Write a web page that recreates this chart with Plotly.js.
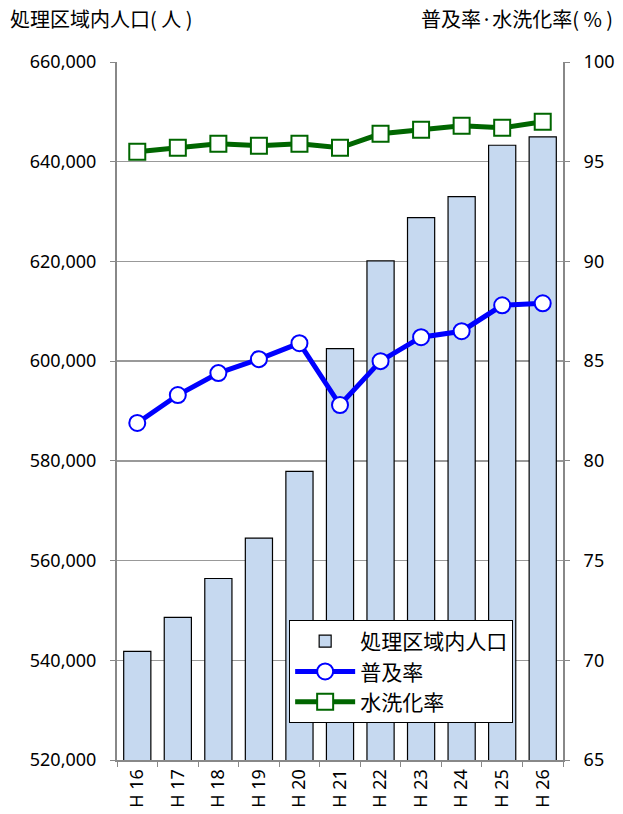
<!DOCTYPE html>
<html>
<head>
<meta charset="utf-8">
<script src="https://cdn.plot.ly/plotly-3.0.1.min.js"></script>
<style>html,body{margin:0;padding:0;background:#fff;}#chart{width:623px;height:814px;}</style>
</head>
<body>
<div id="chart"></div>
<script>
const categories = ["H 16","H 17","H 18","H 19","H 20","H 21","H 22","H 23","H 24","H 25","H 26"];
const population = [541800, 548600, 556400, 564500, 577900, 602500, 620100, 628800, 633000, 643300, 645000];
const fukyuRate = [81.9, 83.3, 84.4, 85.1, 85.9, 82.8, 85.0, 86.2, 86.5, 87.8, 87.9];
const suisenRate = [95.5, 95.7, 95.9, 95.8, 95.9, 95.7, 96.4, 96.6, 96.8, 96.7, 97.0];
const seriesNames = ["処理区域内人口", "普及率", "水洗化率"];
const leftTitle = "処理区域内人口( 人 )";
const rightTitle = "普及率·水洗化率( % )";

const FONT = "'Noto Sans CJK JP', 'Noto Sans', sans-serif";
const NUMFONT = "'Noto Sans', 'Open Sans', sans-serif";

const traces = [
  {
    type: "bar", x: categories, y: population, name: seriesNames[0],
    marker: {color: "#C6D9F0", line: {color: "#000000", width: 1.2}},
    width: 0.67, legendgroup: "a", yaxis: "y"
  },
  {
    type: "scatter", mode: "lines+markers", x: categories, y: fukyuRate, name: seriesNames[1],
    line: {color: "#0000FF", width: 5},
    marker: {symbol: "circle", size: 16, color: "#FFFFFF", line: {color: "#0000FF", width: 2}},
    legendgroup: "b", yaxis: "y2"
  },
  {
    type: "scatter", mode: "lines+markers", x: categories, y: suisenRate, name: seriesNames[2],
    line: {color: "#006600", width: 5},
    marker: {symbol: "square", size: 16, color: "#FFFFFF", line: {color: "#006600", width: 2}},
    legendgroup: "c", yaxis: "y2"
  }
];

const layout = {
  width: 623, height: 814,
  margin: {l: 117, r: 60, t: 62, b: 54},
  paper_bgcolor: "#fff", plot_bgcolor: "#fff",
  font: {family: FONT, size: 17, color: "#000"},
  showlegend: true,
  legend: {
    x: 0.386, y: 0.2006, xanchor: "left", yanchor: "top",
    bgcolor: "#fff", bordercolor: "#000", borderwidth: 1,
    font: {family: FONT, size: 21, color: "#000"},
    traceorder: "grouped", tracegroupgap: 0,
    itemwidth: 60, entrywidth: 235
  },
  xaxis: {
    type: "category",
    range: [-0.5, 10.5],
    tickangle: -90,
    tickson: "boundaries",
    ticks: "outside", ticklen: 5, tickcolor: "#888",
    showline: true, linecolor: "#888", linewidth: 2,
    showgrid: false,
    tickfont: {family: NUMFONT, size: 18, color: "#000"},
    fixedrange: true
  },
  yaxis: {
    range: [520000, 660000], dtick: 20000, tickformat: ",d",
    ticks: "outside", ticklen: 5, tickcolor: "#888",
    ticklabelstandoff: 10,
    showline: true, linecolor: "#888", linewidth: 2,
    showgrid: true, gridcolor: "#999", gridwidth: 1.3,
    zeroline: false,
    tickfont: {family: NUMFONT, size: 18, color: "#000"}
  },
  yaxis2: {
    overlaying: "y", side: "right",
    range: [65, 100], dtick: 5,
    ticks: "outside", ticklen: 5, tickcolor: "#888",
    ticklabelstandoff: 10,
    showline: true, linecolor: "#888", linewidth: 2,
    showgrid: false, zeroline: false,
    tickfont: {family: NUMFONT, size: 18, color: "#000"}
  },
  annotations: [
    {text: leftTitle, xref: "paper", yref: "paper", x: -0.245, y: 1.063, xanchor: "left", yanchor: "middle",
     showarrow: false, font: {family: FONT, size: 20, color: "#000"}},
    {text: rightTitle, xref: "paper", yref: "paper", x: 1.117, y: 1.063, xanchor: "right", yanchor: "middle",
     showarrow: false, font: {family: FONT, size: 20, color: "#000"}}
  ]
};

Plotly.newPlot("chart", traces, layout, {displayModeBar: false, staticPlot: true});
</script>
</body>
</html>
